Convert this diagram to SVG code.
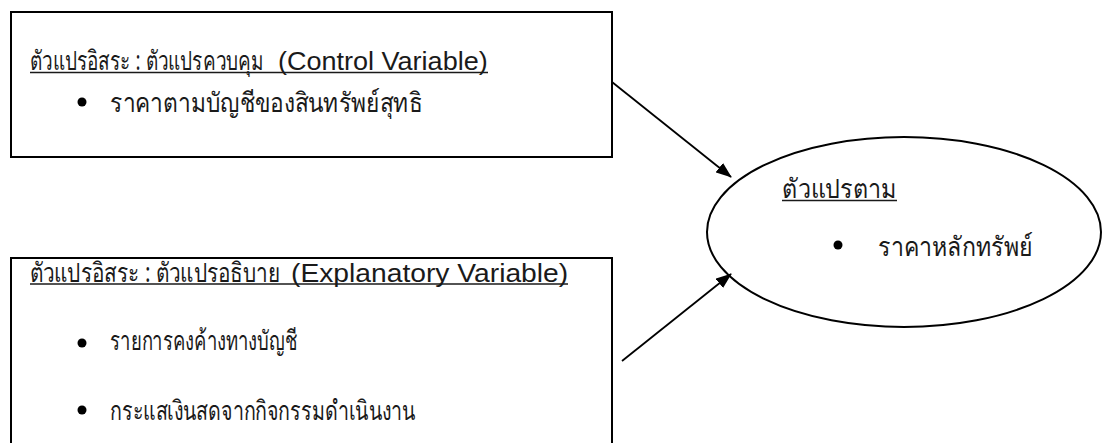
<svg xmlns="http://www.w3.org/2000/svg" width="1106" height="443" viewBox="0 0 1106 443">
<defs>
<style>
.box{fill:none;stroke:#000;stroke-width:2}
.th{font-family:"Noto Sans","DejaVu Sans","Liberation Sans",sans-serif;font-size:27px;fill:#1a1a1a}
.la{font-family:"Liberation Sans","DejaVu Sans",sans-serif;font-size:25px;fill:#1a1a1a}
.ul{stroke:#1a1a1a;stroke-width:1.5}
.dot{fill:#000}
.conn{stroke:#000;stroke-width:1.8;fill:none}
</style>
<marker id="ah" viewBox="0 0 16 12" refX="15" refY="6" markerWidth="16" markerHeight="12" markerUnits="userSpaceOnUse" orient="auto">
<path d="M0,0 L16,6 L0,12 z" fill="#000"/>
</marker>
</defs>
<rect width="1106" height="443" fill="#fff"/>
<g id="control">
<rect class="box" x="11" y="12" width="601" height="145"/>
<text class="th" transform="translate(30,70) scale(0.72,1)" x="0" y="0" textLength="325" lengthAdjust="spacingAndGlyphs">ตัวแปรอิสระ : ตัวแปรควบคุม</text>
<text class="la" transform="translate(278,70) scale(0.9,1)" x="0" y="0" textLength="233" lengthAdjust="spacingAndGlyphs">(Control Variable)</text>
<line class="ul" x1="30" y1="72.5" x2="488" y2="72.5"/>
<circle class="dot" cx="82" cy="102" r="4.5"/>
<text class="th" x="110" y="111.5" textLength="312" lengthAdjust="spacingAndGlyphs">ราคาตามบัญชีของสินทรัพย์สุทธิ</text>
</g>
<g id="explanatory">
<rect class="box" x="11" y="258" width="601" height="200"/>
<text class="th" transform="translate(30,281.5) scale(0.75,1)" x="0" y="0" textLength="333" lengthAdjust="spacingAndGlyphs">ตัวแปรอิสระ : ตัวแปรอธิบาย</text>
<text class="la" transform="translate(291,281.5) scale(0.9,1)" x="0" y="0" textLength="308" lengthAdjust="spacingAndGlyphs">(Explanatory Variable)</text>
<line class="ul" x1="30" y1="284" x2="568" y2="284"/>
<circle class="dot" cx="82" cy="343" r="4.5"/>
<text class="th" x="110" y="350" textLength="187" lengthAdjust="spacingAndGlyphs">รายการคงค้างทางบัญชี</text>
<circle class="dot" cx="82" cy="410" r="4.5"/>
<text class="th" x="110" y="420" textLength="305" lengthAdjust="spacingAndGlyphs">กระแสเงินสดจากกิจกรรมดำเนินงาน</text>
</g>
<g id="dependent">
<ellipse class="box" cx="904" cy="232" rx="197" ry="95"/>
<text class="th" x="782" y="198" textLength="115" lengthAdjust="spacingAndGlyphs">ตัวแปรตาม</text>
<line class="ul" x1="782" y1="200.5" x2="897" y2="200.5"/>
<circle class="dot" cx="838" cy="245" r="4.5"/>
<text class="th" x="878" y="256" textLength="155" lengthAdjust="spacingAndGlyphs">ราคาหลักทรัพย์</text>
</g>
<g id="connectors">
<line class="conn" x1="612" y1="82" x2="731" y2="177" marker-end="url(#ah)"/>
<line class="conn" x1="622" y1="361" x2="731" y2="274" marker-end="url(#ah)"/>
</g>
</svg>
